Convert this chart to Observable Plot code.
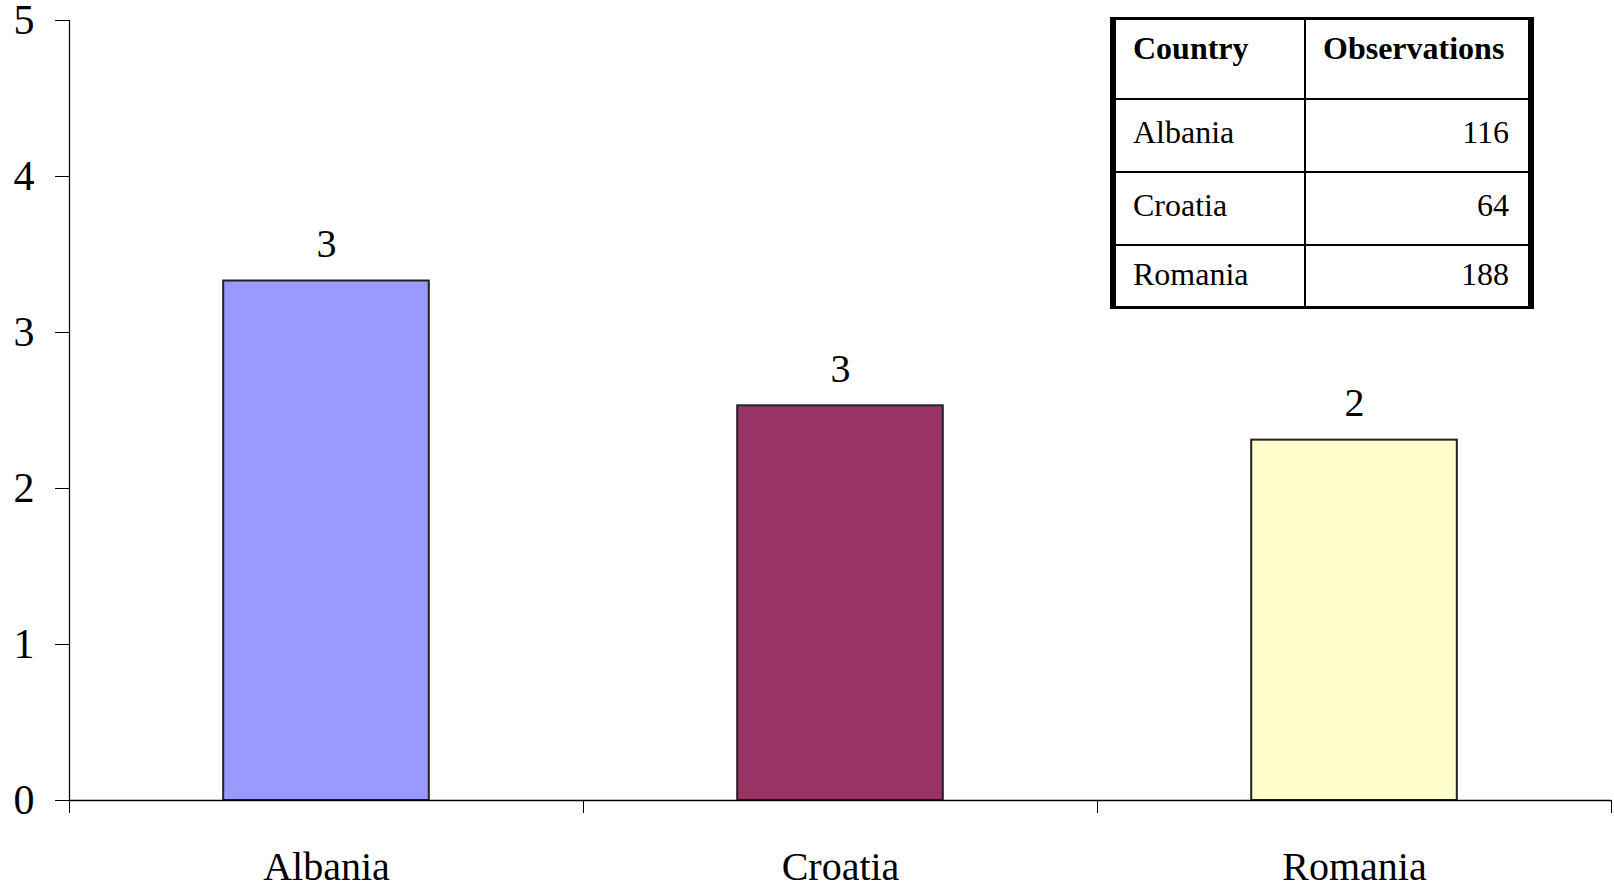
<!DOCTYPE html>
<html>
<head>
<meta charset="utf-8">
<script src="https://cdn.jsdelivr.net/npm/d3@7"></script>
<script src="https://cdn.jsdelivr.net/npm/@observablehq/plot@0.6"></script>
<style>
  html, body { margin: 0; padding: 0; background: #fff; }
  #wrap { position: relative; width: 1614px; height: 887px; overflow: hidden; }
  #obs {
    position: absolute; left: 1110px; top: 17px;
    border-collapse: collapse;
    font-family: "Liberation Serif", "Times New Roman", serif;
    font-size: 32px; color: #000;
    border-left: 6px solid #000; border-right: 6px solid #000;
    border-top: 3px solid #000; border-bottom: 3px solid #000;
  }
  #obs td, #obs th { border: 2px solid #000; box-sizing: border-box; padding: 0 19px 0 17px; }
  #obs th { font-weight: bold; height: 80px; vertical-align: top; padding-top: 10px; text-align: left; }
  #obs td { height: 73px; vertical-align: middle; padding-bottom: 6px; }
  #obs tr:last-child td { height: 63px; padding-bottom: 2px; }
  #obs .c1 { width: 192px; }
  #obs .c2 { width: 226px; }
  #obs td.num { text-align: right; }
</style>
</head>
<body>
<div id="wrap"></div>
<script>
// ---- data ----
const countries = ["Albania", "Croatia", "Romania"];
const values = [3.33, 2.53, 2.31];
const barColors = ["#9999FF", "#993366", "#FFFFCC"];
const yTicks = [0, 1, 2, 3, 4, 5];
const tableHeader = ["Country", "Observations"];
const tableCountries = ["Albania", "Croatia", "Romania"];
const observations = [116, 64, 188];

const data = countries.map((c, i) => ({country: c, value: values[i], idx: i}));
const fmt0 = d3.format(".0f");

const chart = Plot.plot({
  width: 1614,
  height: 887,
  marginLeft: 69,
  marginRight: 3,
  marginTop: 20,
  marginBottom: 87,
  style: {fontFamily: "'Liberation Serif', 'Times New Roman', serif", fontSize: "40px", color: "#000", background: "#fff", overflow: "visible"},
  x: {type: "linear", domain: [0, countries.length], axis: null},
  y: {domain: [0, 5], axis: null},
  color: {domain: countries, range: barColors},
  marks: [
    Plot.rectY(data, {x1: d => d.idx + 0.3, x2: d => d.idx + 0.7, y1: 0, y2: "value", fill: "country", stroke: "#222", strokeWidth: 2}),
    Plot.ruleY([0], {stroke: "#000", strokeWidth: 1.5}),
    Plot.ruleX([0], {stroke: "#000", strokeWidth: 1.2}),
    Plot.axisY({ticks: yTicks, label: null, tickSize: 14, tickPadding: 21, fontSize: 42, tickFormat: d3.format("d"), stroke: "#000"}),
    Plot.axisX({ticks: d3.range(countries.length + 1), label: null, tickSize: 13, tickFormat: () => "", stroke: "#000"}),
    Plot.text(data, {x: d => d.idx + 0.5, y: 0, text: "country", dy: 67, fontSize: 40, fill: "#000"}),
    Plot.text(data, {x: d => d.idx + 0.5, y: "value", text: d => fmt0(d.value), dy: -37, fontSize: 40, fill: "#000"})
  ]
});

const wrap = document.getElementById("wrap");
wrap.appendChild(chart);

// ---- observations table ----
const table = document.createElement("table");
table.id = "obs";
const thead = document.createElement("tr");
tableHeader.forEach((h, j) => {
  const th = document.createElement("th");
  th.className = j === 0 ? "c1" : "c2";
  th.textContent = h;
  thead.appendChild(th);
});
table.appendChild(thead);
tableCountries.forEach((c, i) => {
  const tr = document.createElement("tr");
  const td1 = document.createElement("td");
  td1.className = "c1";
  td1.textContent = c;
  const td2 = document.createElement("td");
  td2.className = "c2 num";
  td2.textContent = observations[i];
  tr.appendChild(td1);
  tr.appendChild(td2);
  table.appendChild(tr);
});
wrap.appendChild(table);
</script>
</body>
</html>
